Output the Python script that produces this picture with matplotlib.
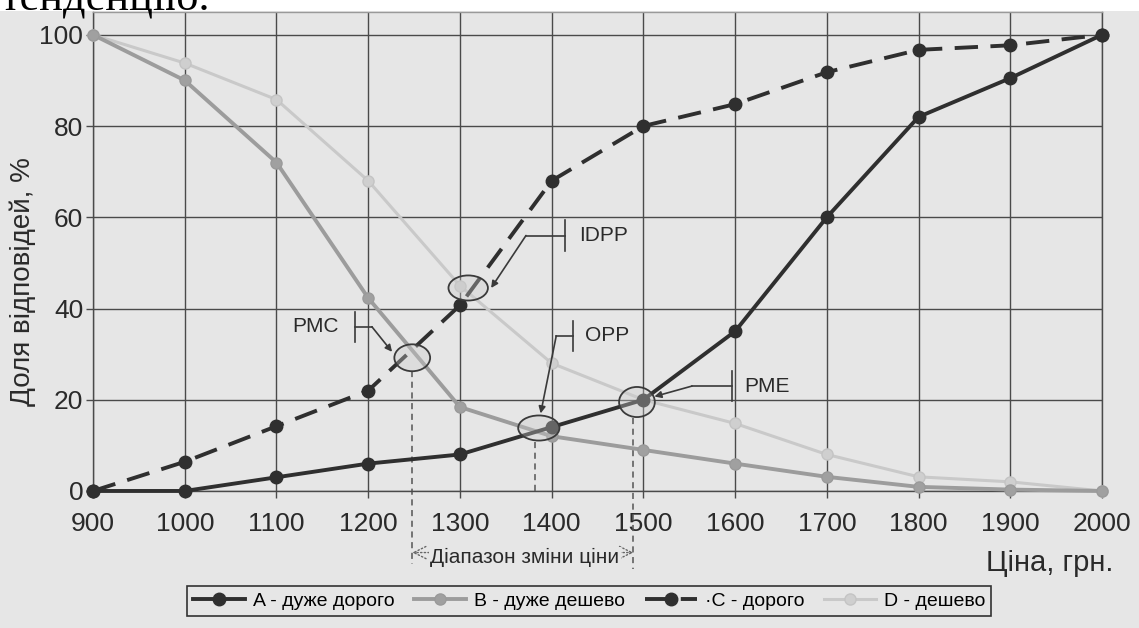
import matplotlib
matplotlib.use("Agg")
import matplotlib.pyplot as plt
from matplotlib.patches import Ellipse, Rectangle

plt.rcParams['font.family'] = ['Liberation Sans', 'DejaVu Sans']

# ціни та частки відповідей (%)
prices = [900, 1000, 1100, 1200, 1300, 1400, 1500, 1600, 1700, 1800, 1900, 2000]
too_expensive = [0, 0, 3, 6, 8, 14, 20, 35, 60, 82, 90.5, 100]      # A
too_cheap = [100, 90, 72, 42.3, 18.4, 12, 9, 6, 3.1, 0.9, 0.3, 0]   # B
expensive = [0, 6.4, 14.2, 22, 40.7, 68, 80, 84.8, 91.8, 96.7, 97.7, 100]  # C
cheap = [100, 93.8, 85.8, 68, 45, 28, 20, 14.8, 8, 3.1, 2, 0]       # D

labels = ['A - дуже дорого', 'B - дуже дешево', '\u00b7C - дорого', 'D - дешево']
yticks = [0, 20, 40, 60, 80, 100]

# точки перетину (ціна, %)
pmc = (1248, 29.2)
idpp = (1309, 44.5)
opp = (1386, 13.8)
pme = (1493, 19.5)

bg = '#e6e6e6'
dark = '#2f2f2f'

fig = plt.figure(figsize=(11.39, 6.28), dpi=100, facecolor=bg)
fig.patches.append(Rectangle((0, 1 - 11 / 628), 1, 11 / 628, transform=fig.transFigure,
                             facecolor='white', edgecolor='none', zorder=-1))
fig.text(0.0, 1 - 9 / 628, 'тенденцію.', fontsize=32, family='Liberation Serif',
         va='baseline', ha='left', color='black')

ax = fig.add_axes([0.0817, 0.2182, 0.8858, 0.7627])
ax.set_facecolor(bg)

ax.plot(prices, cheap, color='#c9c9c9', lw=2.2, marker='o', ms=8, mfc='#cfcfcf',
        mec='#c4c4c4', label=labels[3], zorder=3, clip_on=False)
ax.plot(prices, too_cheap, color='#9c9c9c', lw=2.8, marker='o', ms=8, mfc='#a0a0a0',
        mec='#9a9a9a', label=labels[1], zorder=4, clip_on=False)
ax.plot(prices, expensive, color=dark, lw=2.8, ls=(0, (6, 3.2)), marker='o', ms=9,
        label=labels[2], zorder=5, clip_on=False)
ax.plot(prices, too_expensive, color=dark, lw=2.8, marker='o', ms=9,
        label=labels[0], zorder=6, clip_on=False)

ax.set_xlim(900, 2000)
ax.set_ylim(0, 105)
ax.set_xticks(prices)
ax.set_yticks(yticks)
ax.grid(True, color='#4a4a4a', lw=1.0)
ax.set_axisbelow(True)
for s in ['left', 'right', 'bottom']:
    ax.spines[s].set_color('#4a4a4a')
    ax.spines[s].set_linewidth(1.0)
ax.spines['top'].set_color('#9a9a9a')
ax.spines['top'].set_linewidth(1.0)
ax.tick_params(axis='x', labelsize=19, length=5, width=1, color='#4a4a4a', pad=10,
               labelcolor='#2a2a2a')
ax.tick_params(axis='y', labelsize=19, length=5, width=1, color='#4a4a4a', pad=2,
               labelcolor='#2a2a2a')

fig.text(23 / 1139, 1 - 282 / 628, 'Доля відповідей, %', rotation=90, fontsize=20,
         ha='center', va='center', color='#2a2a2a')
fig.text(1113 / 1139, 1 - 563 / 628, 'Ціна, грн.', fontsize=21, ha='right', va='center',
         color='#2a2a2a')

# кола в точках перетину
for (px, py), w, h in [(pmc, 39, 5.9), (idpp, 43, 5.5), (opp, 45, 5.5), (pme, 39, 6.6)]:
    ax.add_patch(Ellipse((px, py), w, h, facecolor=(0.8, 0.8, 0.8, 0.35),
                         edgecolor='#3a3a3a', lw=1.3, zorder=7))

# виноски
def callout(ax, text, tx, ty, bar, knee, tip, ha='left'):
    ax.plot([bar, bar], [ty - 3.3, ty + 3.3], color='#3a3a3a', lw=1.2, zorder=8)
    ax.plot([bar, knee], [ty, ty], color='#3a3a3a', lw=1.2, zorder=8)
    ax.annotate('', xy=tip, xytext=(knee, ty),
                arrowprops=dict(arrowstyle='-|>', color='#3a3a3a', lw=1.2,
                                mutation_scale=10, shrinkA=0, shrinkB=0), zorder=8)
    ax.text(tx, ty, text, fontsize=15, ha=ha, va='center', color='#2a2a2a', zorder=8)

callout(ax, 'PMC', 1168, 36, 1186, 1204, (1226, 30.5), ha='right')
callout(ax, 'IDPP', 1430, 56, 1415, 1372, (1334, 44.5))
callout(ax, 'OPP', 1436, 34, 1423, 1405, (1388, 17))
callout(ax, 'PME', 1610, 23, 1597, 1553, (1512, 20.7))

# пунктирні вертикалі
ax.plot([pmc[0], pmc[0]], [pmc[1] - 3, -16], color='#555555', lw=1.1, ls=(0, (4, 3)),
        clip_on=False, zorder=2)
ax.plot([opp[0] - 4, opp[0] - 4], [opp[1] - 3, 0], color='#555555', lw=1.1, ls=(0, (4, 3)),
        clip_on=False, zorder=2)
ax.plot([pme[0] - 4, pme[0] - 4], [pme[1] - 3.5, -17], color='#555555', lw=1.1,
        ls=(0, (4, 3)), clip_on=False, zorder=2)

# діапазон зміни ціни
ax.annotate('', xy=(pmc[0], -13.5), xytext=(pme[0] - 4, -13.5), annotation_clip=False,
            arrowprops=dict(arrowstyle='<->', color='#666666', lw=1.0, ls=':',
                            mutation_scale=22, shrinkA=0, shrinkB=0))
ax.text((pmc[0] + pme[0]) / 2, -14.6, 'Діапазон зміни ціни', fontsize=15, ha='center',
        va='center', color='#2a2a2a', clip_on=False,
        bbox=dict(facecolor=bg, edgecolor='none', pad=1))

handles, lbls = ax.get_legend_handles_labels()
order = [3, 1, 2, 0]
leg = fig.legend([handles[i] for i in order], [lbls[i] for i in order], ncol=4,
                 loc='center', bbox_to_anchor=(589 / 1139, 1 - 601 / 628), fontsize=14,
                 frameon=True, fancybox=False, edgecolor='#333333', facecolor=bg,
                 handlelength=2.7, handletextpad=0.4, columnspacing=1.0,
                 borderpad=0.3, numpoints=1)
leg.get_frame().set_linewidth(1.2)
leg.get_frame().set_alpha(1)

fig.savefig('out.png', dpi=100, facecolor=bg)
